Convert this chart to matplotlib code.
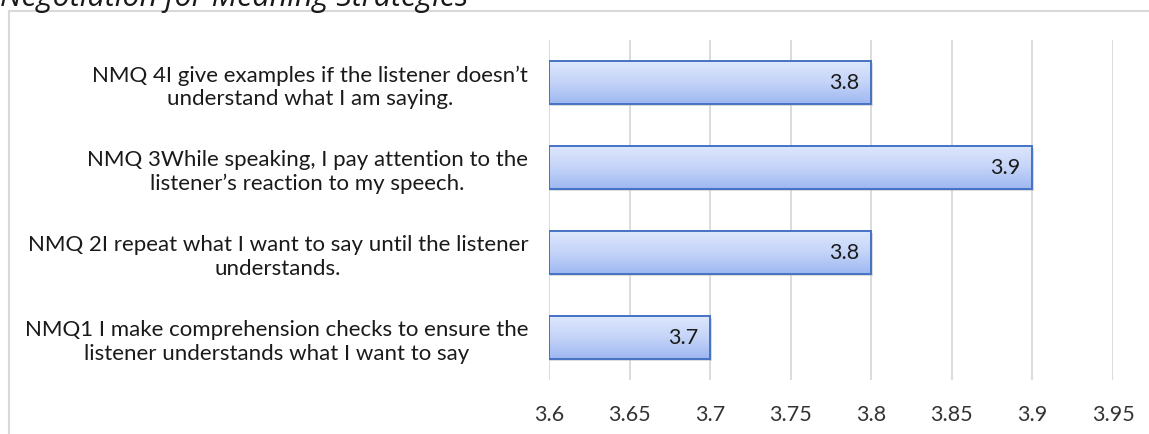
import numpy as np
import matplotlib
matplotlib.use("Agg")
import matplotlib.pyplot as plt
from matplotlib.colors import LinearSegmentedColormap
from matplotlib.patches import Rectangle
from matplotlib.lines import Line2D
import matplotlib.transforms as mtransforms

# survey items, bottom to top
items = [
    "NMQ1 I make comprehension checks to ensure the\nlistener understands what I want to say",
    "NMQ 2I repeat what I want to say until the listener\nunderstands.",
    "NMQ 3While speaking, I pay attention to the\nlistener\u2019s reaction to my speech.",
    "NMQ 4I give examples if the listener doesn\u2019t\nunderstand what I am saying.",
]
means = [3.7, 3.8, 3.9, 3.8]
x_ticks = [3.6, 3.65, 3.7, 3.75, 3.8, 3.85, 3.9, 3.95]
title = "Negotiation for Meaning Strategies"

plt.rcParams['font.family'] = ['Lato', 'DejaVu Sans']

W, H = 1149, 435
fig = plt.figure(figsize=(W / 100, H / 100), dpi=100)
ax = fig.add_axes([549 / W, 1 - 381 / H, (1113 - 549) / W, (381 - 41) / H])

x_min, x_max = x_ticks[0], x_ticks[-1]
bar_h = 0.5
grad = LinearSegmentedColormap.from_list("barfill", ["#9fb8f1", "#c4d4f8", "#dde6fc"])
grad_arr = np.linspace(0, 1, 64).reshape(-1, 1)

ypos = np.arange(len(items))
for y, v in zip(ypos, means):
    # soft shadow under the bar
    shadow_tr = mtransforms.offset_copy(ax.transData, fig=fig, x=1.5, y=-2.0, units='dots')
    ax.add_patch(Rectangle((x_min, y - bar_h / 2), v - x_min, bar_h, transform=shadow_tr,
                           facecolor="#b0b0b0", edgecolor="none", alpha=0.45, zorder=2))
    bar = ax.barh(y, v - x_min, left=x_min, height=bar_h, facecolor="none",
                  edgecolor="#4472c4", linewidth=1.4, zorder=4)[0]
    img = ax.imshow(grad_arr, cmap=grad, extent=(x_min, v, y - bar_h / 2, y + bar_h / 2),
                    origin='lower', aspect='auto', zorder=3, interpolation='bilinear')
    img.set_clip_path(bar)
    ax.annotate("{:.1f}".format(v), xy=(v, y), xytext=(-12, 0), textcoords='offset pixels',
                ha='right', va='center', fontsize=15.5, color="#1a1a1a", zorder=5)

ax.set_xlim(x_min, x_max)
ax.set_ylim(-0.5, len(items) - 0.5)
ax.set_xticks(x_ticks)
ax.set_xticklabels(["{:g}".format(t) for t in x_ticks], fontsize=15.5, color="#333333")
ax.set_yticks(ypos)
ax.set_yticklabels(items, fontsize=16, color="#1a1a1a", multialignment='center')
ax.tick_params(axis='both', length=0)
ax.tick_params(axis='x', pad=17)
ax.tick_params(axis='y', pad=15)
ax.grid(axis='x', color="#d9d9d9", linewidth=1.3, zorder=0)
ax.set_axisbelow(True)
for s in ax.spines.values():
    s.set_visible(False)

# chart frame (runs off the right and bottom edges)
fx = 9 / W
fy = 1 - 12 / H
fig.add_artist(Line2D([fx, fx], [0, fy], transform=fig.transFigure, color="#d9d9d9", linewidth=1.5))
fig.add_artist(Line2D([fx, 1], [fy, fy], transform=fig.transFigure, color="#d9d9d9", linewidth=1.5))

fig.text(0.0, 1 - 6 / H, title, fontsize=22, style='italic', color="#1a1a1a",
         ha='left', va='baseline', family=['Open Sans', 'DejaVu Sans'])

fig.savefig("out.png", dpi=100)
